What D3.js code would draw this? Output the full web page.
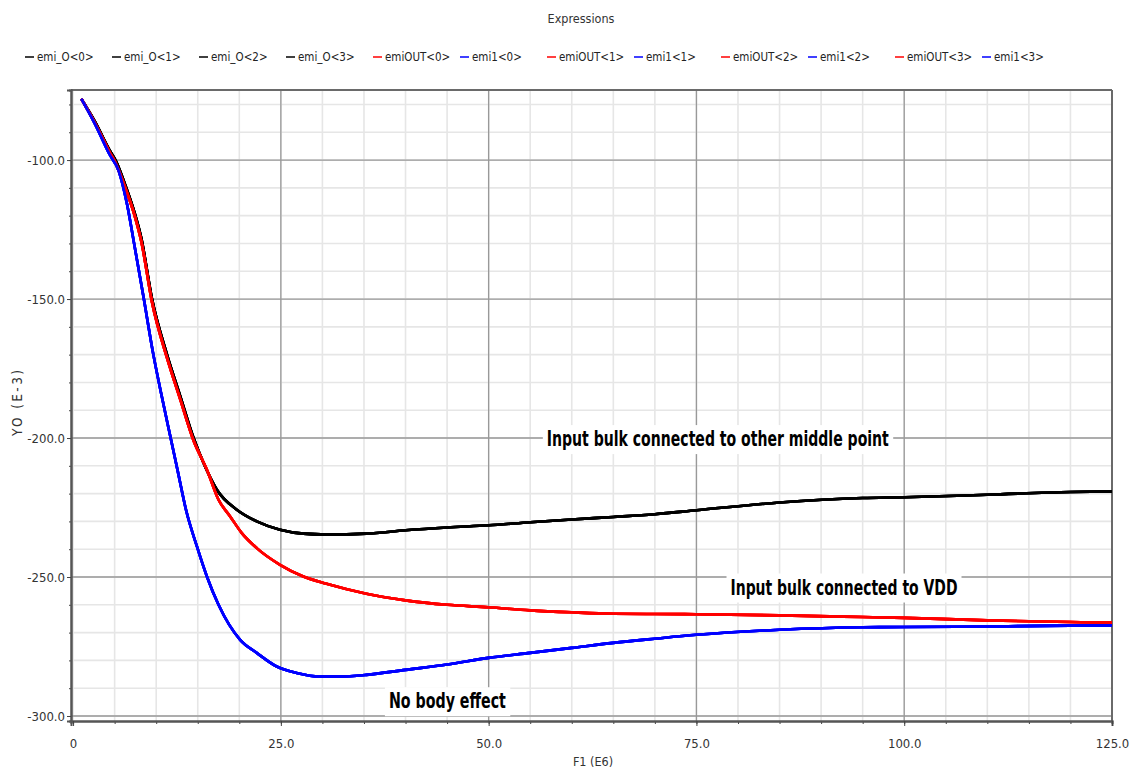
<!DOCTYPE html>
<html>
<head>
<meta charset="utf-8">
<script src="https://cdn.jsdelivr.net/npm/d3@7"></script>
<style>
  body { margin: 0; background: #fff; }
  text { font-family: "DejaVu Sans Condensed", "DejaVu Sans", sans-serif; fill: #333; }
  .note { font-family: "Liberation Sans Narrow", "DejaVu Sans Condensed", sans-serif; font-weight: bold; fill: #000; }
</style>
</head>
<body>
<div id="chart"></div>
<script>
// curves: [F1 (MHz), YO (mV)]
var emiO = [
  [1, -78], [2.6, -86], [4.4, -96.5], [5.1, -100], [6.4, -110], [7.4, -119], [8.2, -128],
  [9.5, -150], [11.3, -170], [12.9, -185], [14.5, -200], [15.7, -209], [17.3, -218.6],
  [19.7, -225.8], [22.1, -230], [24.9, -233], [27.7, -234.4], [30.5, -234.7], [35.3, -234.4],
  [40, -233.2], [45, -232.2], [50, -231.4], [55, -230.3], [60, -229.3], [65, -228.4],
  [70, -227.4], [75, -226], [85, -223.2], [95, -221.6], [100, -221.3], [110, -220.4],
  [120, -219.4], [125, -219.2]
];
var emiOUT = [
  [1, -78], [2.6, -86.5], [4.4, -97.2], [5.1, -101], [6.4, -111], [7.4, -120], [8.2, -129.2],
  [9.5, -151.2], [11.3, -171.2], [12.9, -186.2], [14.5, -201], [16.1, -211.4], [17.5, -222.2],
  [18.9, -228.2], [20.3, -234.2], [22.1, -239.6], [24.9, -245.6], [27.7, -249.8], [30.5, -252.4],
  [35.3, -256], [40, -258.4], [45, -260], [50, -260.9], [55, -262], [60, -262.7], [65, -263.2],
  [70, -263.3], [75, -263.4], [85, -263.8], [95, -264.4], [100, -264.7], [110, -265.6],
  [120, -266.2], [125, -266.4]
];
var emi1 = [
  [1, -78], [2.6, -86.8], [4.4, -98], [5.5, -104], [6.5, -116], [7.4, -131], [8.46, -149],
  [9.66, -170], [10.67, -185], [11.67, -199], [12.6, -212], [13.6, -226], [14.9, -239],
  [16.1, -249.8], [17.5, -260], [20.1, -272.6], [22.1, -277.3], [24.5, -282.2], [26.9, -284.5],
  [29.7, -285.8], [32, -285.8], [35.3, -285.2], [40, -283.4], [45, -281.5], [50, -279.1],
  [55, -277.3], [60, -275.5], [65, -273.7], [70, -272.2], [75, -270.8], [85, -269],
  [95, -268.1], [100, -268], [110, -267.8], [120, -267.5], [125, -267.5]
];

// legend entries, in the order shown, and which curve each one draws
var seriesNames = ["emi_O<0>", "emi_O<1>", "emi_O<2>", "emi_O<3>",
  "emiOUT<0>", "emi1<0>", "emiOUT<1>", "emi1<1>",
  "emiOUT<2>", "emi1<2>", "emiOUT<3>", "emi1<3>"];
var seriesCurve = ["emiO", "emiO", "emiO", "emiO",
  "emiOUT", "emi1", "emiOUT", "emi1",
  "emiOUT", "emi1", "emiOUT", "emi1"];

var xMajorTicks = [0, 25, 50, 75, 100, 125];
var xMinorTicks = d3.range(0, 126, 5);
var yMajorTicks = [-100, -150, -200, -250, -300];
var yMinorTicks = d3.range(-300, -79, 10);

var notes = [
  {text: "Input bulk connected to other middle point", x: 57.0, y: -202.9, len: 342},
  {text: "Input bulk connected to VDD", x: 79.1, y: -256.3, len: 227},
  {text: "No body effect", x: 38.0, y: -297.2, len: 117}
];

var curves = {emiO: emiO, emiOUT: emiOUT, emi1: emi1};
var colors = {emiO: "#000000", emiOUT: "#ff0000", emi1: "#0000ff"};

var svgWidth = 1130;
var svgHeight = 771;
var margin = {top: 90, right: 18, bottom: 50, left: 71};
var width = svgWidth - margin.left - margin.right;
var height = svgHeight - margin.top - margin.bottom;

var svg = d3.select("#chart")
  .append("svg")
  .attr("width", svgWidth)
  .attr("height", svgHeight);

// title and legend
svg.append("text")
  .attr("x", 581)
  .attr("y", 19)
  .attr("text-anchor", "middle")
  .attr("dominant-baseline", "middle")
  .style("font-size", "12.5px")
  .text("Expressions");

var legend = svg.append("g").attr("transform", "translate(25, 57)");
var items = legend.selectAll("g")
  .data(seriesNames)
  .enter()
  .append("g")
  .attr("transform", (d, i) => `translate(${i * 87}, 0)`);
items.append("line")
  .attr("x1", 0).attr("x2", 9)
  .attr("stroke", (d, i) => colors[seriesCurve[i]])
  .attr("stroke-width", 1.5);
items.append("text")
  .attr("x", 12)
  .attr("dominant-baseline", "middle")
  .style("font-size", "11.5px")
  .style("fill", "#222")
  .text(d => d);

var chartGroup = svg.append("g")
  .attr("transform", `translate(${margin.left}, ${margin.top})`);

var x = d3.scaleLinear().domain([-0.25, 125]).range([0, width]);
var y = d3.scaleLinear().domain([-74.8, -301.8]).range([0, height]);

// minor grid
chartGroup.append("g")
  .selectAll("line")
  .data(xMinorTicks)
  .enter()
  .append("line")
  .attr("x1", d => x(d)).attr("x2", d => x(d))
  .attr("y1", 0).attr("y2", height)
  .attr("stroke", "#e6e6e6").attr("stroke-width", 1.6);
chartGroup.append("g")
  .selectAll("line")
  .data(yMinorTicks)
  .enter()
  .append("line")
  .attr("x1", 0).attr("x2", width)
  .attr("y1", d => y(d)).attr("y2", d => y(d))
  .attr("stroke", "#e6e6e6").attr("stroke-width", 1.6);

// major grid
chartGroup.append("g")
  .selectAll("line")
  .data(xMajorTicks.slice(1, -1))
  .enter()
  .append("line")
  .attr("x1", d => x(d)).attr("x2", d => x(d))
  .attr("y1", 0).attr("y2", height)
  .attr("stroke", "#999").attr("stroke-width", 1.3);
chartGroup.append("g")
  .selectAll("line")
  .data(yMajorTicks)
  .enter()
  .append("line")
  .attr("x1", 0).attr("x2", width)
  .attr("y1", d => y(d)).attr("y2", d => y(d))
  .attr("stroke", "#999").attr("stroke-width", 1.3);

// frame top / right
chartGroup.append("line")
  .attr("x1", 0).attr("x2", width).attr("y1", 0).attr("y2", 0)
  .attr("stroke", "#6a6a6a").attr("stroke-width", 2);
chartGroup.append("line")
  .attr("x1", width).attr("x2", width).attr("y1", 0).attr("y2", height)
  .attr("stroke", "#6a6a6a").attr("stroke-width", 2);

// axes
var bottomAxis = d3.axisBottom(x)
  .tickValues(xMajorTicks)
  .tickSize(5)
  .tickPadding(13)
  .tickFormat(d => d === 0 ? "0" : d.toFixed(1));
var bottomMinor = d3.axisBottom(x)
  .tickValues(xMinorTicks)
  .tickSize(3)
  .tickFormat("");
var leftAxis = d3.axisLeft(y)
  .tickValues(yMajorTicks)
  .tickSize(4)
  .tickPadding(2)
  .tickFormat(d => d.toFixed(1));
var leftMinor = d3.axisLeft(y)
  .tickValues(yMinorTicks)
  .tickSize(2)
  .tickFormat("");

[chartGroup.append("g").attr("transform", `translate(0, ${height})`).call(bottomMinor),
 chartGroup.append("g").attr("transform", `translate(0, ${height})`).call(bottomAxis),
 chartGroup.append("g").call(leftMinor),
 chartGroup.append("g").call(leftAxis)].forEach(function(g) {
  g.select(".domain").attr("stroke", "#555").attr("stroke-width", 2);
  g.selectAll(".tick line").attr("stroke", "#444");
  g.selectAll(".tick text").style("font-size", "13px").style("fill", "#333").style("font-family", "DejaVu Sans Condensed");
});

// axis titles
svg.append("text")
  .attr("x", 593)
  .attr("y", 762)
  .attr("text-anchor", "middle")
  .attr("dominant-baseline", "middle")
  .style("font-size", "12.5px")
  .text("F1 (E6)");
svg.append("text")
  .attr("transform", "translate(18, 403) rotate(-90)")
  .attr("text-anchor", "middle")
  .attr("dominant-baseline", "middle")
  .attr("textLength", 66)
  .attr("lengthAdjust", "spacing")
  .style("font-size", "13.5px")
  .text("YO (E-3)");

// curves
var line = d3.line()
  .x(d => x(d[0]))
  .y(d => y(d[1]))
  .curve(d3.curveMonotoneX);

chartGroup.append("g")
  .selectAll("path")
  .data(seriesCurve)
  .enter()
  .append("path")
  .attr("d", d => line(curves[d]))
  .attr("fill", "none")
  .attr("stroke", d => colors[d])
  .attr("stroke-width", 2.6)
  .attr("stroke-linejoin", "round");

// annotations with white boxes
var noteGroup = chartGroup.append("g");
notes.forEach(function(n) {
  var g = noteGroup.append("g");
  var rect = g.append("rect").attr("fill", "#fff");
  var t = g.append("text")
    .attr("class", "note")
    .attr("x", x(n.x))
    .attr("y", y(n.y))
    .attr("textLength", n.len)
    .attr("lengthAdjust", "spacingAndGlyphs")
    .style("font-size", "22px")
    .text(n.text);
  var b = t.node().getBBox();
  rect.attr("x", b.x - 4).attr("y", b.y - 1)
    .attr("width", b.width + 8).attr("height", b.height + 4);
});
</script>
</body>
</html>
